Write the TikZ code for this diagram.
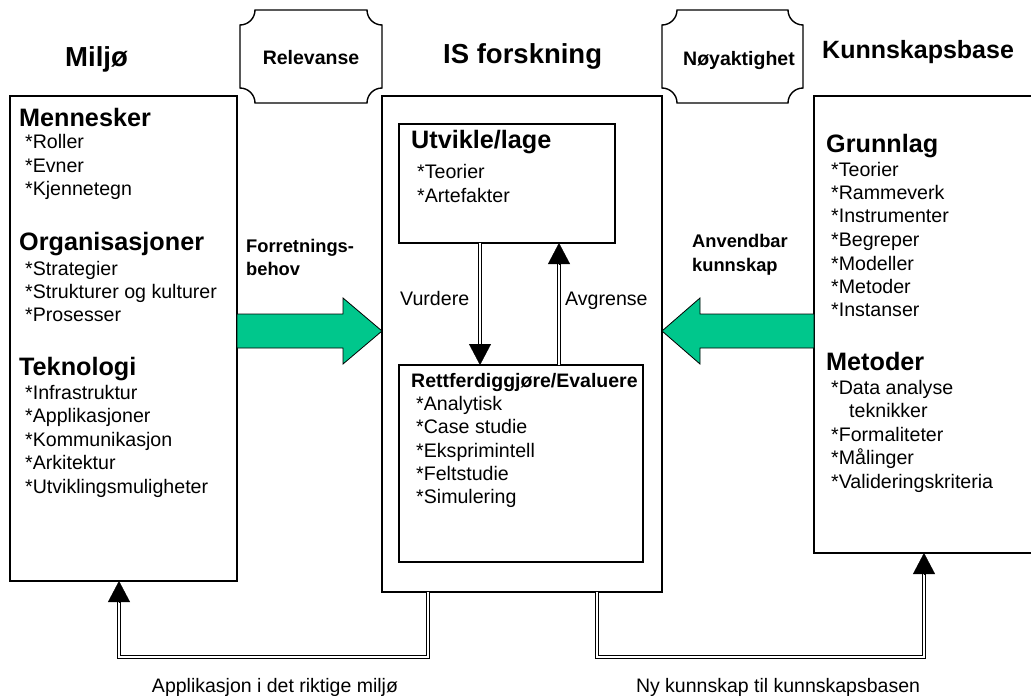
\documentclass[tikz,border=0pt]{standalone}
\usepackage{fontspec}
\setmainfont{Liberation Sans}
\usetikzlibrary{arrows.meta,calc}
\definecolor{arrowgreen}{RGB}{0,199,140}

% plaque outline with concave corners: {x0}{y0}{x1}{y1}{radius}
\newcommand\plaque[5]{%
  \draw[line width=1.4pt]
    (#1+#5,#2) -- (#3-#5,#2)
    .. controls (#3-#5,#2+0.55*#5) and (#3-0.55*#5,#2+#5) .. (#3,#2+#5)
    -- (#3,#4-#5)
    .. controls (#3-0.55*#5,#4-#5) and (#3-#5,#4-0.55*#5) .. (#3-#5,#4)
    -- (#1+#5,#4)
    .. controls (#1+#5,#4-0.55*#5) and (#1+0.55*#5,#4-#5) .. (#1,#4-#5)
    -- (#1,#2+#5)
    .. controls (#1+0.55*#5,#2+#5) and (#1+#5,#2+0.55*#5) .. (#1+#5,#2)
    -- cycle;}

\begin{document}
\begin{tikzpicture}[x=1pt,y=-1pt,
  box/.style={draw, line width=1.4pt, inner sep=0pt, outer sep=0pt, anchor=north west},
  ibox/.style={draw, line width=1.2pt, inner sep=0pt, outer sep=0pt, anchor=north west},
  title/.style={font=\fontsize{27.5}{32}\selectfont\bfseries, inner sep=0pt, anchor=base west},
  head/.style={font=\fontsize{25.2}{30}\selectfont\bfseries, inner sep=0pt, anchor=base west},
  subhead/.style={font=\fontsize{19.5}{23}\selectfont\bfseries, inner sep=0pt, anchor=base west},
  item/.style={font=\fontsize{19.6}{23}\selectfont, inner sep=0pt, anchor=base west},
  label/.style={font=\fontsize{18.3}{22}\selectfont\bfseries, inner sep=0pt, anchor=base west},
  caption/.style={font=\fontsize{19.5}{23}\selectfont, inner sep=0pt, anchor=base},
  dbl/.style={line width=1pt, double=white, double distance=1.5pt},
  tip/.style={-{Triangle[width=22pt,length=21pt]}, line width=0.2pt},
  blockarrow/.style={draw, line width=0.8pt, fill=arrowgreen, line join=miter}
  ]
\clip (0,0) rectangle (1031,696);

% ---------- main boxes ----------
\node[box, minimum width=227pt, minimum height=485pt] (env) at (10,96) {};
\node[box, minimum width=280pt, minimum height=496pt] (is) at (382,96) {};
\node[ibox, minimum width=216pt, minimum height=119pt] (dev) at (399,124) {};
\node[ibox, minimum width=244pt, minimum height=197pt] (eval) at (399,365) {};
\node[box, minimum width=230pt, minimum height=457pt] (kb) at (814,96) {};

% ---------- plaques ----------
\plaque{240}{10}{382}{103}{15}
\plaque{662}{10}{803}{103}{15}
\node[subhead, anchor=base] (rel) at (311,64) {Relevanse};
\node[subhead, anchor=base] (noy) at (739,65) {Nøyaktighet};

% ---------- column titles ----------
\node[title] (t-env) at (65,66) {Miljø};
\node[title] (t-is) at (443,63) {IS forskning};
\node[title, font=\fontsize{25}{30}\selectfont\bfseries] (t-kb) at (822,58) {Kunnskapsbase};

% ---------- Miljø ----------
\node[head] (h-men) at (19,126) {Mennesker};
\node[item] at (25,148) {*Roller};
\node[item] at (25,172) {*Evner};
\node[item] at (25,195) {*Kjennetegn};
\node[head] (h-org) at (19,250) {Organisasjoner};
\node[item] at (25,275) {*Strategier};
\node[item] at (25,298) {*Strukturer og kulturer};
\node[item] at (25,321) {*Prosesser};
\node[head] (h-tek) at (19,375) {Teknologi};
\node[item] at (25,399) {*Infrastruktur};
\node[item] at (25,422) {*Applikasjoner};
\node[item] at (25,446) {*Kommunikasjon};
\node[item] at (25,469) {*Arkitektur};
\node[item] at (25,493) {*Utviklingsmuligheter};

% ---------- IS forskning ----------
\node[head] (h-dev) at (411,148) {Utvikle/lage};
\node[item] at (417,178) {*Teorier};
\node[item] at (417,202) {*Artefakter};
\node[subhead] (h-eval) at (411,387) {Rettferdiggjøre/Evaluere};
\node[item] at (416,410) {*Analytisk};
\node[item] at (416,433) {*Case studie};
\node[item] at (416,457) {*Eksprimintell};
\node[item] at (416,480) {*Feltstudie};
\node[item] at (416,503) {*Simulering};

% ---------- Kunnskapsbase ----------
\node[head] (h-grl) at (826,152) {Grunnlag};
\node[item] at (831,176) {*Teorier};
\node[item] at (831,199) {*Rammeverk};
\node[item] at (831,222) {*Instrumenter};
\node[item] at (831,246) {*Begreper};
\node[item] at (831,270) {*Modeller};
\node[item] at (831,293) {*Metoder};
\node[item] at (831,316) {*Instanser};
\node[head] (h-met) at (826,370) {Metoder};
\node[item] at (831,394) {*Data analyse};
\node[item] at (849,417) {teknikker};
\node[item] at (831,441) {*Formaliteter};
\node[item] at (831,464) {*Målinger};
\node[item] at (831,488) {*Valideringskriteria};

% ---------- block arrows ----------
\draw[blockarrow] (env.east |- 0,314) -- (343,314) -- (343,298) -- (is.west |- 0,331)
  -- (343,364) -- (343,348) -- (env.east |- 0,348) -- cycle;
\draw[blockarrow] (kb.west |- 0,314) -- (700,314) -- (700,298) -- (is.east |- 0,331)
  -- (700,364) -- (700,348) -- (kb.west |- 0,348) -- cycle;
\node[label] (need1) at (246,252) {Forretnings-};
\node[label] (need2) at (246,275) {behov};
\node[label] (know1) at (692,247) {Anvendbar};
\node[label] (know2) at (692,271) {kunnskap};

% ---------- inner loop ----------
\coordinate (vur-top) at (480,0 |- dev.south);
\coordinate (vur-bot) at (480,0 |- eval.north);
\draw[dbl] (vur-top) -- ($(vur-bot)+(0,-21)$);
\draw[tip] ($(vur-bot)+(0,-21)$) -- (vur-bot);
\coordinate (avg-bot) at (559,0 |- eval.north);
\coordinate (avg-top) at (559,0 |- dev.south);
\draw[dbl] (avg-bot) -- ($(avg-top)+(0,21)$);
\draw[tip] ($(avg-top)+(0,21)$) -- (avg-top);
\node[item] (vur) at (400,305) {Vurdere};
\node[item] (avg) at (565,305) {Avgrense};

% ---------- feedback connectors ----------
\coordinate (app-start) at (428,0 |- is.south);
\coordinate (app-end) at (119,0 |- env.south);
\draw[dbl] (app-start) -- (428,657) -| ($(app-end)+(0,21)$);
\draw[tip] ($(app-end)+(0,21)$) -- (app-end);
\node[caption] (app) at (275,692) {Applikasjon i det riktige miljø};

\coordinate (ny-start) at (597,0 |- is.south);
\coordinate (ny-end) at (924,0 |- kb.south);
\draw[dbl] (ny-start) -- (597,657) -| ($(ny-end)+(0,21)$);
\draw[tip] ($(ny-end)+(0,21)$) -- (ny-end);
\node[caption] (ny) at (778,692) {Ny kunnskap til kunnskapsbasen};
\end{tikzpicture}
\end{document}
